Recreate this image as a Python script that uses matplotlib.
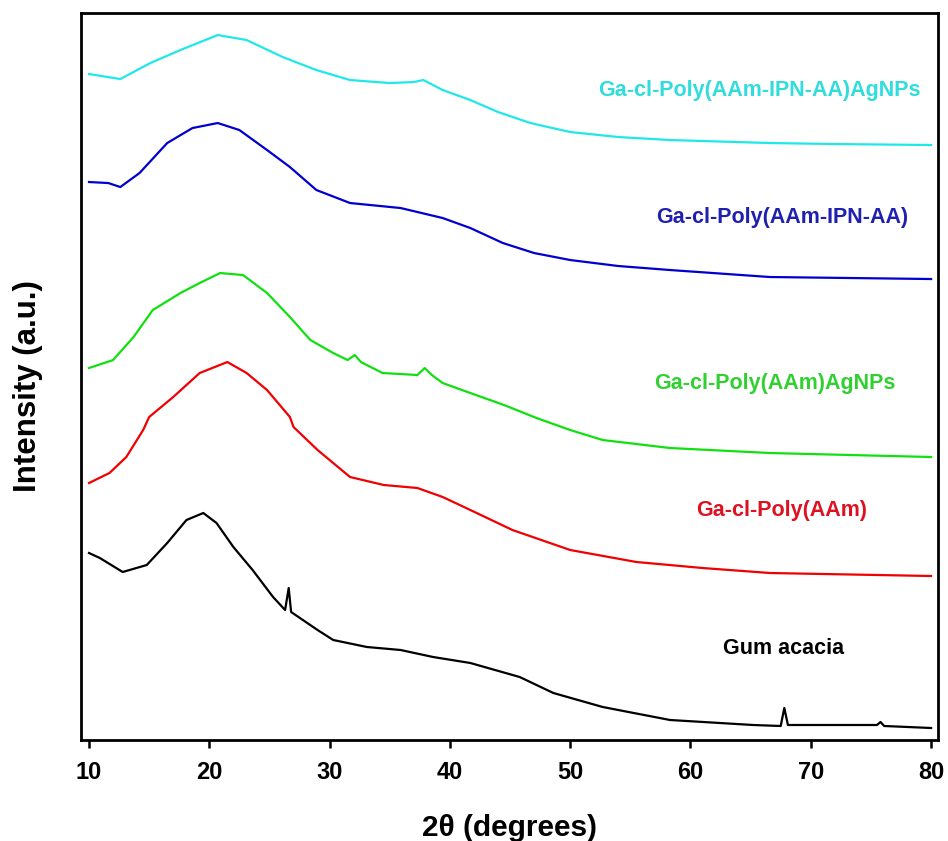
import matplotlib
matplotlib.use('Agg')
import matplotlib.pyplot as plt

plt.rcParams['font.family'] = ['Liberation Sans', 'DejaVu Sans']

# 2theta (deg) / intensity (a.u., offset stacked)
ga_x = [10, 10.9, 12.8, 14.8, 16.5, 18.1, 19.5, 20.6, 22, 23.6, 25.3, 26.3, 26.6, 26.8,
        29, 30.3, 33.1, 35.9, 38.6, 41.7, 45.8, 48.6, 52.7, 58.3, 65.2, 67.5, 67.8, 68.1,
        75.5, 75.8, 76.1, 80]
ga_y = [187, 182, 168, 175, 197, 220, 227, 217, 193, 170, 143, 130, 152, 128,
        110, 100, 93, 90, 83, 77, 63, 47, 33, 20, 15, 14, 32, 15,
        15, 18, 14, 12]

paam_x = [10, 11.7, 13.1, 14.5, 15, 17, 19.2, 21.5, 23.1, 24.8, 26.7, 27, 29, 31.7,
          34.5, 37.3, 39.4, 41.7, 45.2, 50, 55.5, 61, 66.6, 80]
paam_y = [257, 267, 283, 310, 323, 343, 367, 378, 367, 350, 323, 313, 290, 263,
          255, 252, 243, 230, 210, 190, 178, 172, 167, 164]

paam_ag_x = [10, 12, 13.7, 15.3, 17.6, 19.2, 20.9, 22.8, 24.8, 26.7, 28.4, 30.3, 31.5,
             32.1, 32.6, 34.4, 37.3, 37.9, 38.5, 39.4, 41.7, 44.5, 47.2, 50, 52.7, 58.3,
             66.6, 80]
paam_ag_y = [372, 380, 403, 430, 447, 457, 467, 465, 447, 423, 400, 387, 380,
             385, 378, 367, 365, 372, 365, 357, 347, 335, 322, 310, 300, 292,
             287, 283]

ipn_x = [10, 11.6, 12.6, 14.2, 16.5, 18.6, 20.7, 22.5, 24.8, 26.7, 28.9, 31.7, 35.9,
         39.4, 41.7, 44.4, 47, 50, 54, 58.3, 66.6, 80]
ipn_y = [558, 557, 553, 567, 597, 612, 617, 610, 590, 573, 550, 537, 532,
         522, 512, 497, 487, 480, 474, 470, 463, 461]

ipn_ag_x = [10, 12.6, 15.1, 17.6, 20.7, 23.1, 26.1, 28.9, 31.7, 35, 37, 37.8, 39.4,
            41.7, 44, 46.7, 50, 54, 58.3, 66.6, 72, 80]
ipn_ag_y = [666, 661, 677, 690, 705, 700, 683, 670, 660, 657, 658, 660, 650,
            640, 628, 617, 608, 603, 600, 597, 596, 595]

series = [
    (ga_x, ga_y, 'black', 'black', 'Gum acacia', 67.7, 92),
    (paam_x, paam_y, '#f00000', '#dd1122', 'Ga-cl-Poly(AAm)', 67.6, 230),
    (paam_ag_x, paam_ag_y, '#10e010', '#30d030', 'Ga-cl-Poly(AAm)AgNPs', 67.0, 357),
    (ipn_x, ipn_y, '#0000d0', '#2020b0', 'Ga-cl-Poly(AAm-IPN-AA)', 67.6, 523),
    (ipn_ag_x, ipn_ag_y, '#20e8e8', '#30dcdc', 'Ga-cl-Poly(AAm-IPN-AA)AgNPs', 65.7, 650),
]

fig = plt.figure(figsize=(9.48, 8.41), dpi=100)
ax = fig.add_axes([0.0854, 0.1201, 0.9041, 0.8644])

for xs, ys, lc, tc, label, tx, ty in series:
    ax.plot(xs, ys, color=lc, linewidth=1.6)
    ax.text(tx, ty, label, color=tc, fontsize=15.5, fontweight='bold',
            ha='center', va='center')

ax.set_xlim(9.33, 80.58)
ax.set_ylim(0, 727)
ax.set_xticks([10, 20, 30, 40, 50, 60, 70, 80])
ax.set_yticks([])
ax.tick_params(axis='x', direction='out', length=6, width=1.8, labelsize=17, pad=9)
for lbl in ax.get_xticklabels():
    lbl.set_fontweight('bold')
for sp in ax.spines.values():
    sp.set_linewidth(2.0)

ax.set_xlabel('2θ (degrees)', fontsize=21.5, fontweight='bold', labelpad=22)
ax.set_ylabel('Intensity (a.u.)', fontsize=22.5, fontweight='bold')
ax.yaxis.set_label_coords(-0.044, 0.487)

fig.savefig('out.png', dpi=100, facecolor='white')
